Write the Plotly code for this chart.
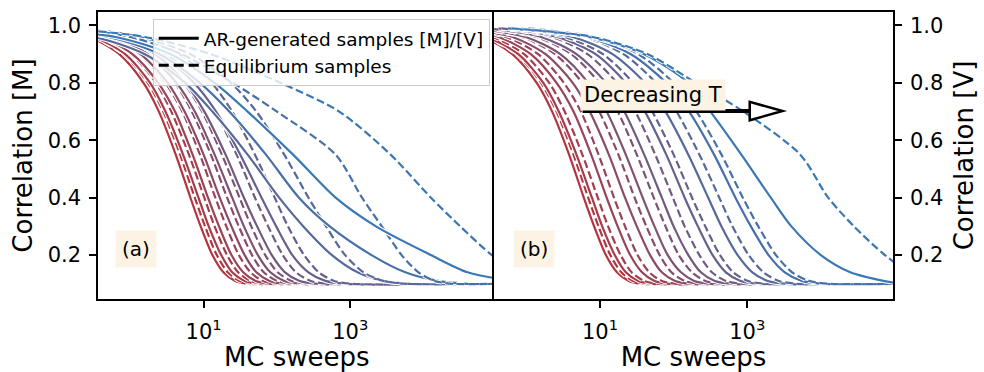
import plotly.graph_objects as go

# ---------------- data ----------------
# correlation levels at which the curves were read
Y_LEVELS = [0.99, 0.96, 0.9, 0.8, 0.7, 0.55, 0.4, 0.3, 0.2, 0.14, 0.11, 0.1]
PLATEAU = 0.1

# log10(MC sweeps) where each curve reaches the Y_LEVELS; index 0 = highest T (red) ... 9 = lowest T (blue)
M_AR_LOGX = [
    [-1.17, -0.56, -0.15, 0.18, 0.39, 0.62, 0.82, 0.96, 1.12, 1.27, 1.43, 1.62],
    [-1.13, -0.50, -0.07, 0.27, 0.48, 0.72, 0.93, 1.07, 1.24, 1.39, 1.56, 1.75],
    [-1.05, -0.41, 0.03, 0.38, 0.61, 0.85, 1.06, 1.21, 1.38, 1.54, 1.71, 1.91],
    [-0.99, -0.31, 0.14, 0.51, 0.74, 1.00, 1.22, 1.38, 1.56, 1.72, 1.90, 2.11],
    [-0.96, -0.24, 0.24, 0.63, 0.88, 1.15, 1.39, 1.55, 1.74, 1.91, 2.10, 2.33],
    [-0.94, -0.18, 0.34, 0.75, 1.01, 1.30, 1.55, 1.73, 1.93, 2.11, 2.31, 2.55],
    [-1.06, -0.19, 0.40, 0.87, 1.17, 1.50, 1.79, 1.99, 2.21, 2.43, 2.66, 2.93],
    [-1.80, -0.50, 0.20, 0.75, 1.12, 1.60, 2.03, 2.36, 2.75, 3.10, 3.45, 3.80],
    [-1.60, -0.30, 0.40, 0.95, 1.35, 1.85, 2.30, 2.72, 3.29, 3.75, 4.20, 4.60],
    [-1.40, -0.20, 0.55, 1.15, 1.60, 2.22, 2.80, 3.35, 4.10, 4.60, 5.20, 5.60],
]
M_EQ_LOGX = [
    [-1.11, -0.50, -0.09, 0.24, 0.45, 0.68, 0.88, 1.02, 1.18, 1.33, 1.49, 1.68],
    [-1.05, -0.42, 0.01, 0.35, 0.56, 0.80, 1.01, 1.15, 1.32, 1.47, 1.64, 1.83],
    [-0.95, -0.31, 0.13, 0.48, 0.71, 0.95, 1.16, 1.31, 1.48, 1.64, 1.81, 2.01],
    [-0.89, -0.21, 0.24, 0.61, 0.84, 1.10, 1.32, 1.48, 1.66, 1.82, 2.00, 2.21],
    [-0.86, -0.14, 0.34, 0.73, 0.98, 1.25, 1.49, 1.65, 1.84, 2.01, 2.20, 2.43],
    [-0.79, -0.03, 0.49, 0.90, 1.16, 1.45, 1.70, 1.88, 2.08, 2.26, 2.46, 2.70],
    [-0.69, 0.13, 0.67, 1.11, 1.39, 1.70, 1.97, 2.15, 2.37, 2.57, 2.78, 3.03],
    [-0.88, 0.13, 0.82, 1.37, 1.72, 2.10, 2.43, 2.67, 2.93, 3.18, 3.45, 3.77],
    [-0.80, 0.00, 0.70, 1.40, 2.00, 2.80, 3.16, 3.43, 3.70, 3.93, 4.15, 4.40],
    [-0.90, 0.20, 1.10, 2.05, 2.85, 3.55, 4.10, 4.50, 4.93, 5.30, 5.60, 5.90],
]
M_END_LOGX = [3.3, 3.3, 3.3, 3.3, 3.3, 5.0, 5.0, 5.0, 5.0, 5.0]

V_AR_LOGX = [
    [-1.21, -0.60, -0.19, 0.14, 0.35, 0.58, 0.78, 0.92, 1.08, 1.23, 1.39, 1.58],
    [-1.17, -0.54, -0.11, 0.23, 0.44, 0.68, 0.89, 1.03, 1.20, 1.35, 1.52, 1.71],
    [-1.02, -0.38, 0.06, 0.41, 0.64, 0.88, 1.09, 1.24, 1.41, 1.57, 1.74, 1.94],
    [-0.87, -0.19, 0.26, 0.63, 0.86, 1.12, 1.34, 1.50, 1.68, 1.84, 2.02, 2.23],
    [-0.71, -0.01, 0.46, 0.84, 1.09, 1.35, 1.58, 1.74, 1.92, 2.10, 2.28, 2.50],
    [-0.53, 0.20, 0.68, 1.08, 1.33, 1.60, 1.84, 2.00, 2.20, 2.37, 2.56, 2.79],
    [-0.34, 0.42, 0.94, 1.35, 1.61, 1.90, 2.15, 2.33, 2.53, 2.71, 2.91, 3.15],
    [-0.19, 0.63, 1.17, 1.61, 1.89, 2.20, 2.47, 2.65, 2.87, 3.07, 3.28, 3.53],
    [-0.08, 0.81, 1.42, 1.90, 2.21, 2.55, 2.84, 3.05, 3.29, 3.51, 3.74, 4.02],
    [-0.25, 0.85, 1.60, 2.20, 2.50, 2.92, 3.32, 3.60, 4.00, 4.40, 4.85, 5.10],
]
V_EQ_LOGX = [
    [-1.15, -0.54, -0.13, 0.20, 0.41, 0.64, 0.84, 0.98, 1.14, 1.29, 1.45, 1.64],
    [-1.09, -0.46, -0.03, 0.31, 0.52, 0.76, 0.97, 1.11, 1.28, 1.43, 1.60, 1.79],
    [-0.92, -0.28, 0.16, 0.51, 0.74, 0.98, 1.19, 1.34, 1.51, 1.67, 1.84, 2.04],
    [-0.74, -0.06, 0.39, 0.76, 0.99, 1.25, 1.47, 1.63, 1.81, 1.97, 2.15, 2.36],
    [-0.56, 0.14, 0.61, 0.99, 1.24, 1.50, 1.73, 1.89, 2.07, 2.25, 2.43, 2.65],
    [-0.38, 0.35, 0.83, 1.23, 1.48, 1.75, 1.99, 2.15, 2.35, 2.52, 2.71, 2.94],
    [-0.24, 0.52, 1.04, 1.45, 1.71, 2.00, 2.25, 2.43, 2.63, 2.81, 3.01, 3.25],
    [-0.04, 0.78, 1.32, 1.76, 2.04, 2.35, 2.62, 2.80, 3.02, 3.22, 3.43, 3.68],
    [0.02, 0.91, 1.52, 2.00, 2.31, 2.65, 2.94, 3.15, 3.39, 3.61, 3.84, 4.12],
    [-0.20, 0.90, 1.65, 2.30, 2.95, 3.72, 4.10, 4.45, 4.87, 5.20, 5.50, 5.80],
]
V_END_LOGX = [5.0] * 10

X_TICKS = [10, 1000]
X_TICK_TEXT = ["10<sup>1</sup>", "10<sup>3</sup>"]
Y_TICKS = [0.2, 0.4, 0.6, 0.8, 1.0]
Y_TICK_TEXT = ["0.2", "0.4", "0.6", "0.8", "1.0"]

LEGEND_LABELS = ["AR-generated samples [M]/[V]", "Equilibrium samples"]
PANEL_LABELS = ["(a)", "(b)"]
Y_TITLES = ["Correlation [M]", "Correlation [V]"]
X_TITLE = "MC sweeps"
ARROW_TEXT = "Decreasing T"

# ---------------- style ----------------
FONT = "DejaVu Sans"
RED = (180, 52, 62)
BLUE = (58, 120, 181)
DASH = "8px,3.5px"
LEGEND_DASH = "10px,5px"
LW = 2.2
WHITE_W = 4.2

W, H = 984, 372
ML, MR, MT, MB = 98, 87, 10, 65


def color_at(i, n):
    f = i / (n - 1)
    r = round(RED[0] + (BLUE[0] - RED[0]) * f)
    g = round(RED[1] + (BLUE[1] - RED[1]) * f)
    b = round(RED[2] + (BLUE[2] - RED[2]) * f)
    return f"rgb({r},{g},{b})"


def curve(logx, end):
    xs = [10 ** v for v in logx]
    ys = list(Y_LEVELS)
    if end > logx[-1]:
        xs.append(10 ** end)
        ys.append(PLATEAU)
    return xs, ys


fig = go.Figure()

panels = [
    (M_AR_LOGX, M_EQ_LOGX, M_END_LOGX, "x", "y"),
    (V_AR_LOGX, V_EQ_LOGX, V_END_LOGX, "x2", "y2"),
]
for ar, eq, ends, xa, ya in panels:
    n = len(ar)
    for i in range(n):
        col = color_at(i, n)
        for data, dash in ((ar[i], "solid"), (eq[i], DASH)):
            xs, ys = curve(data, ends[i])
            fig.add_trace(go.Scatter(
                x=xs, y=ys, xaxis=xa, yaxis=ya, mode="lines",
                line=dict(color="white", width=WHITE_W, dash=dash, shape="spline", smoothing=0.8),
                showlegend=False, hoverinfo="skip"))
            fig.add_trace(go.Scatter(
                x=xs, y=ys, xaxis=xa, yaxis=ya, mode="lines",
                line=dict(color=col, width=LW, dash=dash, shape="spline", smoothing=0.8),
                showlegend=False, hoverinfo="skip"))

# legend proxies
for label, dash in zip(LEGEND_LABELS, ["solid", LEGEND_DASH]):
    fig.add_trace(go.Scatter(x=[None], y=[None], xaxis="x", yaxis="y", mode="lines",
                             line=dict(color="black", width=3, dash=dash), name=label))

axis_common = dict(
    showline=True, linecolor="black", linewidth=1.5, mirror=True,
    ticks="outside", ticklen=7, tickwidth=1.5, tickcolor="black",
    showgrid=False, zeroline=False,
    tickfont=dict(family=FONT, size=21, color="black"),
)
xr = [-0.44, 4.98]
yr = [0.047, 1.047]
pw = W - ML - MR
ph = H - MT - MB
gap = 1.5 / pw

fig.update_layout(
    width=W, height=H,
    margin=dict(l=ML, r=MR, t=MT, b=MB),
    paper_bgcolor="white", plot_bgcolor="white",
    font=dict(family=FONT, color="black"),
    xaxis=dict(domain=[0, 0.5], type="log", range=xr, tickvals=X_TICKS, ticktext=X_TICK_TEXT,
               anchor="y", ticklabelstandoff=6,
               title=dict(text=X_TITLE, font=dict(family=FONT, size=26), standoff=0), **axis_common),
    xaxis2=dict(domain=[0.5 - gap, 1], type="log", range=xr, tickvals=X_TICKS, ticktext=X_TICK_TEXT,
                anchor="y2", ticklabelstandoff=6,
                title=dict(text=X_TITLE, font=dict(family=FONT, size=26), standoff=0), **axis_common),
    yaxis=dict(range=yr, tickvals=Y_TICKS, ticktext=Y_TICK_TEXT, anchor="x", ticklabelstandoff=4,
               title=dict(text=Y_TITLES[0], font=dict(family=FONT, size=26), standoff=8), **axis_common),
    yaxis2=dict(range=yr, tickvals=Y_TICKS, ticktext=Y_TICK_TEXT, anchor="x2", side="right",
                ticklabelstandoff=4,
                title=dict(text=Y_TITLES[1], font=dict(family=FONT, size=26), standoff=12), **axis_common),
    showlegend=True,
    legend=dict(x=(153 - ML) / pw, y=(H - MB - 17) / ph,
                xanchor="left", yanchor="top",
                bgcolor="rgba(255,255,255,0.8)", bordercolor="#cccccc", borderwidth=1,
                font=dict(family=FONT, size=18.5, color="black"),
                itemwidth=40, tracegroupgap=0),
)


def px_x(px):
    return (px - ML) / pw


def px_y(py):
    return (H - MB - py) / ph


# panel labels
for lab, cx in zip(PANEL_LABELS, [136, 536]):
    fig.add_annotation(x=px_x(cx), y=px_y(255), xref="paper", yref="paper", text=lab,
                       xanchor="center", yanchor="middle",
                       showarrow=False, font=dict(family=FONT, size=20, color="black"),
                       bgcolor="rgba(245,222,179,0.35)", borderpad=6)

# arrow shaft and head
fig.add_shape(type="line", xref="paper", yref="paper",
              x0=px_x(585), y0=px_y(112.5), x1=px_x(754), y1=px_y(112.5),
              line=dict(color="black", width=4))
fig.add_shape(type="path", xref="paper", yref="paper",
              path=f"M {px_x(753)} {px_y(103)} L {px_x(753)} {px_y(122)} L {px_x(786)} {px_y(112.5)} Z",
              fillcolor="white", line=dict(color="black", width=2.5))

fig.add_annotation(x=px_x(656), y=px_y(96), xref="paper", yref="paper", text=ARROW_TEXT,
                   xanchor="center", yanchor="middle",
                   showarrow=False, font=dict(family=FONT, size=21, color="black"),
                   bgcolor="rgb(252,243,228)", borderpad=3)

fig.write_html("out.html")
